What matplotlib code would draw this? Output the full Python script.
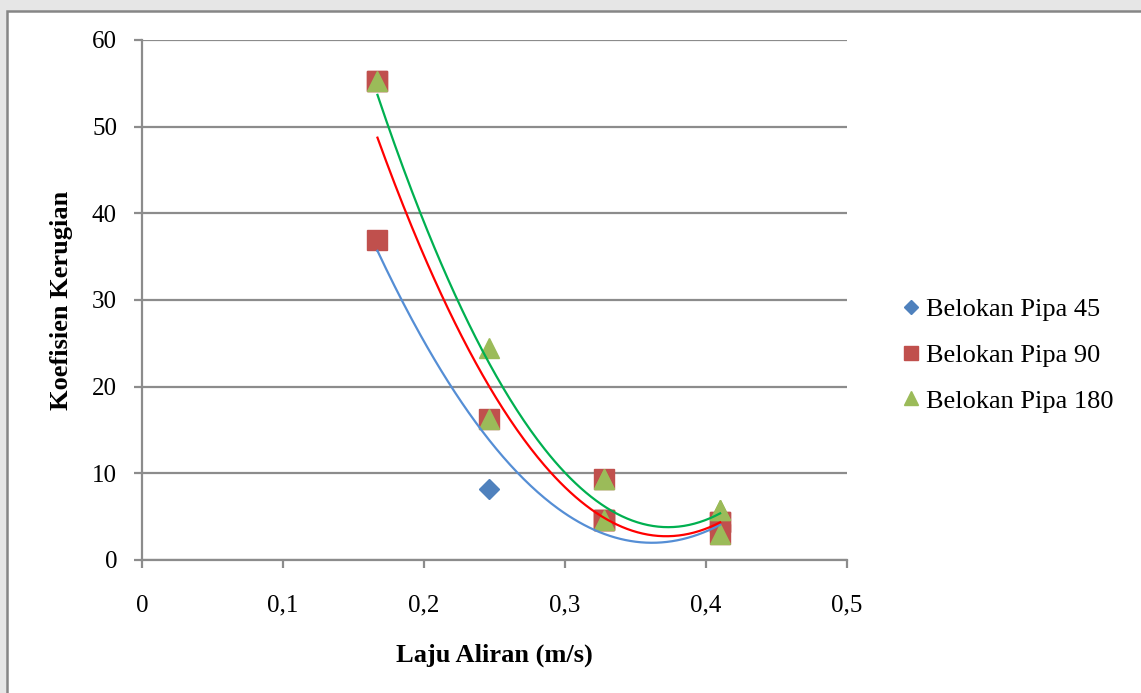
import numpy as np
import matplotlib.pyplot as plt
from matplotlib.patches import Rectangle
from matplotlib.lines import Line2D

# data (laju aliran in m/s, koefisien kerugian)
pipa45_x = [0.167, 0.246, 0.246, 0.328, 0.328, 0.41]
pipa45_y = [36.8, 16.3, 8.2, 4.6, 4.6, 3.0]

pipa90_x = [0.167, 0.167, 0.167, 0.246, 0.328, 0.328, 0.328, 0.328, 0.41, 0.41, 0.41]
pipa90_y = [55.3, 55.3, 36.9, 16.3, 9.3, 4.6, 4.6, 4.6, 4.4, 4.4, 3.0]

pipa180_x = [0.167, 0.246, 0.246, 0.328, 0.328, 0.328, 0.41, 0.41, 0.41]
pipa180_y = [55.3, 24.5, 16.3, 9.3, 9.3, 4.6, 5.8, 5.8, 3.0]

labels = ["Belokan Pipa 45", "Belokan Pipa 90", "Belokan Pipa 180"]
xticks = [0, 0.1, 0.2, 0.3, 0.4, 0.5]
yticks = [0, 10, 20, 30, 40, 50, 60]

plt.rcParams["font.family"] = ["Liberation Serif", "DejaVu Serif"]

fig = plt.figure(figsize=(11.41, 6.93), dpi=100)

# page background strip + chart frame
fig.patches.append(Rectangle((0, 0), 1, 1, transform=fig.transFigure, facecolor="#e6e6e6", edgecolor="none", zorder=-3))
fig.patches.append(Rectangle((7 / 1141, -0.01), 1.0, 1 - 11 / 693 + 0.01, transform=fig.transFigure,
                             facecolor="white", edgecolor="#868686", linewidth=1.8, zorder=-2))

ax = fig.add_axes([142 / 1141, 1 - 560 / 693, 705 / 1141, 520 / 693])
ax.set_facecolor("none")

series = [
    (pipa45_x, pipa45_y, "D", 10.5, 7.2, "#4f81bd", "#558ed5"),
    (pipa90_x, pipa90_y, "s", 15, 10, "#c0504d", "#ff0000"),
    (pipa180_x, pipa180_y, "^", 15, 10.5, "#9bbb59", "#00b050"),
]

handles = []
for (xs, ys, mk, ms, lms, col, tcol), lab in zip(series, labels):
    ax.plot(xs, ys, linestyle="none", marker=mk, markersize=ms, color=col, zorder=3)
    # polynomial (order 2) trendline like excel
    coef = np.polyfit(xs, ys, 2)
    xx = np.linspace(min(xs), max(xs), 200)
    ax.plot(xx, np.polyval(coef, xx), color=tcol, linewidth=1.6, zorder=5)
    handles.append(Line2D([], [], linestyle="none", marker=mk, markersize=lms, color=col, label=lab))

ax.set_xlim(0, 0.5)
ax.set_ylim(0, 60)
ax.set_xticks(xticks)
ax.set_yticks(yticks)
ax.set_xticklabels([str(t).replace(".", ",") for t in xticks], fontsize=18)
ax.set_yticklabels([str(t) for t in yticks], fontsize=18)
ax.grid(axis="y", color="#8c8c8c", linewidth=1.6, zorder=0)
ax.set_axisbelow(True)
for s in ["top", "right"]:
    ax.spines[s].set_visible(False)
for s in ["left", "bottom"]:
    ax.spines[s].set_color("#8c8c8c")
    ax.spines[s].set_linewidth(1.6)
ax.tick_params(axis="both", color="#8c8c8c", length=6, width=1.6)
ax.tick_params(axis="x", pad=19)
ax.tick_params(axis="y", pad=12)

ax.set_xlabel("Laju Aliran (m/s)", fontsize=19, fontweight="bold", labelpad=19)
ax.set_ylabel("Koefisien Kerugian", fontsize=19, fontweight="bold", labelpad=14)

fig.legend(handles=handles, loc="center left", bbox_to_anchor=(898 / 1141, 1 - 355 / 693),
           frameon=False, fontsize=19, handletextpad=0.05, labelspacing=0.85, handlelength=1.0,
           borderpad=0, borderaxespad=0)

fig.savefig("out.png", dpi=100)
